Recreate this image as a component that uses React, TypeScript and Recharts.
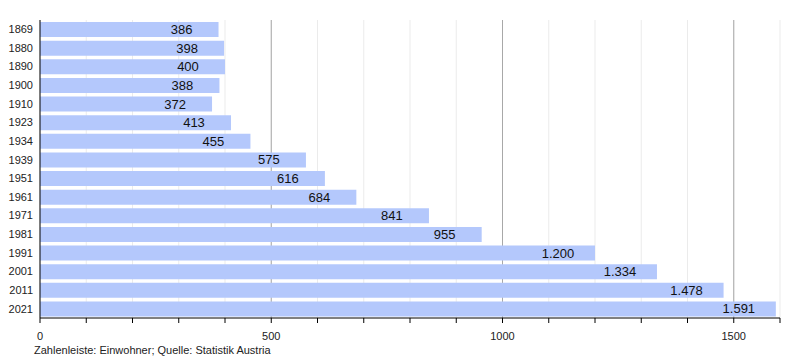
import { BarChart, Bar, XAxis, YAxis, CartesianGrid, LabelList } from 'recharts'

const years = ['1869', '1880', '1890', '1900', '1910', '1923', '1934', '1939', '1951', '1961', '1971', '1981', '1991', '2001', '2011', '2021']
const residents = [386, 398, 400, 388, 372, 413, 455, 575, 616, 684, 841, 955, 1200, 1334, 1478, 1591]
const xTicks = [0, 100, 200, 300, 400, 500, 600, 700, 800, 900, 1000, 1100, 1200, 1300, 1400, 1500, 1600]
const majorTicks = [500, 1000, 1500]

const data = years.map((year, i) => ({ year, value: residents[i] }))

const font = '"Liberation Sans", Arial, sans-serif'

const fmt = (v: number) => v.toLocaleString('de-DE')

function ValueLabel(props: any) {
  const { x, y, width, height, value } = props
  return (
    <text
      x={x + width - 37}
      y={y + height / 2}
      textAnchor="middle"
      dominantBaseline="central"
      fontSize={13}
      fontFamily={font}
      fill="#111"
    >
      {fmt(value)}
    </text>
  )
}

export default function App() {
  return (
    <div style={{ position: 'absolute', left: 0, top: 0, width: 800, height: 360, background: '#fff' }}>
      <BarChart
        width={800}
        height={360}
        data={data}
        layout="vertical"
        margin={{ top: 20, right: 20, bottom: 22, left: 0 }}
        barSize={15}
      >
        <CartesianGrid horizontal={false} stroke="#ebebeb" verticalValues={xTicks} />
        <CartesianGrid horizontal={false} stroke="#a8a8a8" verticalValues={majorTicks} />
        <XAxis
          type="number"
          domain={[0, 1600]}
          ticks={xTicks}
          interval={0}
          tickFormatter={(v: number) => (v % 500 === 0 ? String(v) : '')}
          tick={{ fill: '#222', fontSize: 11, fontFamily: font }}
          tickSize={5}
          tickMargin={9}
          stroke="#000"
          height={20}
        />
        <YAxis
          type="category"
          dataKey="year"
          width={40}
          tickLine={false}
          tickSize={5}
          stroke="#000"
          tick={{ fill: '#222', fontSize: 11, fontFamily: font }}
        />
        <Bar dataKey="value" fill="#b4c8fc" isAnimationActive={false}>
          <LabelList dataKey="value" content={<ValueLabel />} />
        </Bar>
      </BarChart>
      <div
        style={{
          position: 'absolute',
          left: 34,
          top: 344,
          fontSize: 11,
          fontFamily: font,
          color: '#222',
          whiteSpace: 'nowrap',
        }}
      >
        Zahlenleiste: Einwohner; Quelle: Statistik Austria
      </div>
    </div>
  )
}
